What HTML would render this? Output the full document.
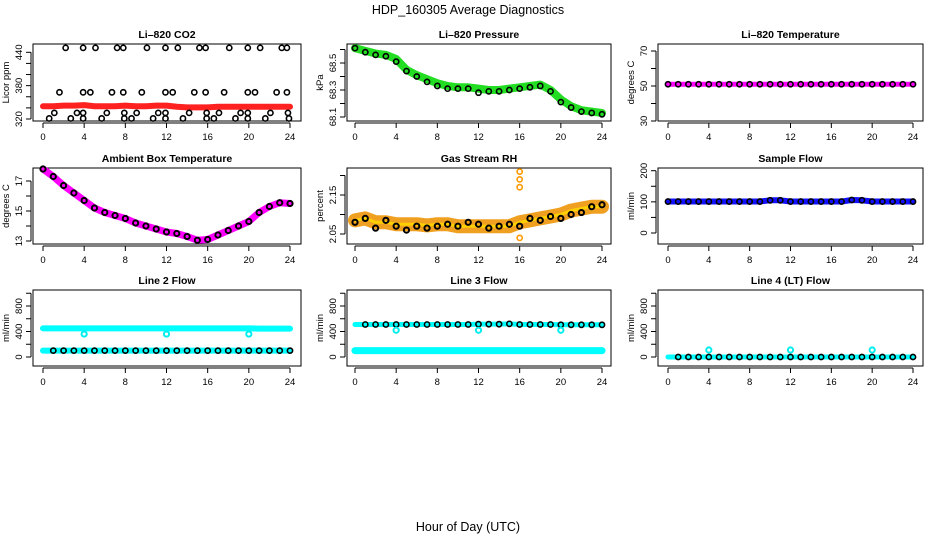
<!DOCTYPE html>
<html><head><meta charset="utf-8">
<style>
html,body{margin:0;padding:0;background:#fff;}
svg{display:block;font-family:"Liberation Sans",sans-serif;}
</style></head>
<body>
<svg id="chart" width="936" height="540" viewBox="0 0 936 540" xmlns="http://www.w3.org/2000/svg">
<text x="468" y="14" text-anchor="middle" font-size="12.5">HDP_160305  Average Diagnostics</text>
<text x="468" y="531" text-anchor="middle" font-size="12.5">Hour of Day (UTC)</text>
</svg>
<script>
const hours = [0,1,2,3,4,5,6,7,8,9,10,11,12,13,14,15,16,17,18,19,20,21,22,23,24];
const xTicks = [0,4,8,12,16,20,24];
// CO2
const co2Band = [343,343,344,344,345,343,343,343,344,343,343,344,344,342,341,341,341,342,342,342,342,342,342,342,342];
const co2HighT = [2.2,3.9,5.1,7.2,7.8,10.1,11.9,13.1,15.2,15.8,18.1,19.9,21.1,23.2,23.7];
const co2MidT = [1.6,3.9,4.6,6.7,7.8,9.6,11.9,12.6,14.7,15.8,17.6,19.9,20.6,22.7,23.7];
const co2LowT = [1.1,3.3,3.9,6.2,7.9,9.1,11.2,11.9,14.2,15.9,17.1,19.2,19.9,22.1,23.8];
const co2MinT = [0.6,2.7,3.9,5.7,7.9,8.6,10.7,11.9,13.6,15.9,16.6,18.7,19.9,21.6,23.9];
const co2Levels = [448,368,331,321];
// Pressure
const presBand = [68.61,68.59,68.57,68.56,68.53,68.45,68.41,68.38,68.35,68.33,68.32,68.32,68.31,68.30,68.30,68.31,68.32,68.33,68.34,68.30,68.23,68.18,68.15,68.14,68.13];
const presAvg = [68.61,68.58,68.56,68.55,68.51,68.44,68.40,68.36,68.33,68.31,68.31,68.31,68.28,68.29,68.29,68.30,68.31,68.32,68.33,68.29,68.21,68.17,68.14,68.13,68.12];
// Li-820 temp
const tempBand = [51,51,51,51,51,51,51,51,51,51,51,51,51,51,51,51,51,51,51,51,51,51,51,51,51];
// Ambient
const ambBand = [17.8,17.3,16.7,16.2,15.7,15.2,14.9,14.7,14.5,14.2,14.0,13.8,13.6,13.5,13.3,13.05,13.1,13.4,13.7,14.0,14.3,14.9,15.3,15.55,15.5];
// RH
const rhBand = [2.085,2.09,2.08,2.08,2.075,2.075,2.075,2.072,2.075,2.075,2.07,2.07,2.07,2.07,2.07,2.07,2.08,2.085,2.09,2.095,2.10,2.11,2.115,2.12,2.12];
const rhAvg = [2.08,2.09,2.065,2.085,2.07,2.06,2.07,2.065,2.07,2.075,2.07,2.08,2.075,2.065,2.07,2.075,2.07,2.09,2.085,2.095,2.09,2.10,2.105,2.12,2.125];
const rhSpikeT = [16,16,16,16];
const rhSpike = [2.21,2.19,2.17,2.04];
// Sample flow
const sampBand = [101,101,101,101,101,101,101,101,101,101,105,105,101,101,101,101,101,101,106,105,101,101,101,101,101];
// Line 2
const l2Top = [450,450,450,450,450,450,450,450,450,450,450,450,450,450,450,450,450,450,450,450,450,445,445,445,445];
const l2Bot = [100,100,100,100,100,100,100,100,100,100,100,100,100,100,100,100,100,100,100,100,100,100,100,100,100];
const outT = [4,12,20];
const l2Out = [360,360,360];
// Line 3
const l3Top = [510,510,510,510,510,510,510,510,510,510,510,510,515,515,515,520,510,510,510,510,505,505,505,505,505];
const l3Bot = [100,100,100,100,100,100,100,100,100,100,100,100,100,100,100,100,100,100,100,100,100,100,100,100,100];
const l3Out = [420,420,420];
// Line 4
const l4Band = [0,0,0,0,0,0,0,0,0,0,0,0,0,0,0,0,0,0,0,0,0,0,0,0,0];
const l4Out = [110,110,110];

const NS="http://www.w3.org/2000/svg";
const svg=document.getElementById('chart');
function mk(tag,attrs,parent){const e=document.createElementNS(NS,tag);for(const k in attrs)e.setAttribute(k,attrs[k]);(parent||svg).appendChild(e);return e;}

const cols=[{L:33,R:301,x0:43,x24:290},{L:347,R:611,x0:355,x24:602},{L:658,R:923,x0:668,x24:913}];
const rows=[{T:44,B:121},{T:168,B:244},{T:290,B:366}];

function panel(name,title,ylab,c,r,ya,yb,yTicks,yLabels){
  const col=cols[c],row=rows[r];
  const g=mk('g',{});
  
  
  const X=h=>col.x0+(h/24)*(col.x24-col.x0);
  const Y=v=>ya[1]+(v-ya[0])*(yb[1]-ya[1])/(yb[0]-ya[0]);
  const t=mk('text',{x:(col.L+col.R)/2,y:row.T-6,'text-anchor':'middle','font-size':10.5,'font-weight':'bold'},g);
  t.textContent=title;
  
  
  const box=mk('rect',{x:col.L,y:row.T,width:col.R-col.L,height:row.B-row.T,fill:'none',stroke:'#000','stroke-width':1},g);
  
  
  const xa=mk('g',{},g);
  
  
  mk('line',{x1:X(0),x2:X(24),y1:row.B+2,y2:row.B+2,stroke:'#000'},xa);
  xTicks.forEach(h=>{
    mk('line',{x1:X(h),x2:X(h),y1:row.B+2,y2:row.B+7,stroke:'#000'},xa);
    const l=mk('text',{x:X(h),y:row.B+19,'text-anchor':'middle','font-size':9.5},xa);
    l.textContent=h;
    
    
  });
  const yaG=mk('g',{},g);
  
  
  mk('line',{x1:col.L-2,x2:col.L-2,y1:Y(yTicks[0]),y2:Y(yTicks[yTicks.length-1]),stroke:'#000'},yaG);
  yTicks.forEach(v=>mk('line',{x1:col.L-7,x2:col.L-2,y1:Y(v),y2:Y(v),stroke:'#000'},yaG));
  yLabels.forEach(v=>{
    const yy=Y(v),xx=col.L-11;
    const l=mk('text',{x:xx,y:yy,'text-anchor':'middle','font-size':9.5,transform:`rotate(-90 ${xx} ${yy})`},yaG);
    l.textContent=v;
    
    
  });
  const yt=mk('text',{x:col.L-24,y:(row.T+row.B)/2,'text-anchor':'middle','font-size':9.5,transform:`rotate(-90 ${col.L-24} ${(row.T+row.B)/2})`},g);
  yt.textContent=ylab;
  
  
  return {g,X,Y};
}
function band(p,xs,vals,color,w,name){
  const pl=mk('polyline',{points:xs.map((h,i)=>p.X(h)+','+p.Y(vals[i])).join(' '),fill:'none',stroke:color,'stroke-width':w,'stroke-linejoin':'round','stroke-linecap':'round'},p.g);
  
  
}
function pts(p,xs,vals,color,name,sw){
  xs.forEach((h,i)=>{
    const c=mk('circle',{cx:p.X(h),cy:p.Y(vals[i]),r:2.6,fill:'none',stroke:color,'stroke-width':sw||1.6},p.g);
    
    
  });
}
function rep(arr,v){return arr.map(()=>v);}

// CO2
let p=panel('co2','Li\u2013820 CO2','Licor ppm',0,0,[320,119],[440,52.3],[320,340,360,380,400,420,440],[320,380,440]);
band(p,hours,co2Band,'#ff2020',6,'co2-series');
pts(p,co2HighT,rep(co2HighT,co2Levels[0]),'#000','co2-point');
pts(p,co2MidT,rep(co2MidT,co2Levels[1]),'#000','co2-point');
pts(p,co2LowT,rep(co2LowT,co2Levels[2]),'#000','co2-point');
pts(p,co2MinT,rep(co2MinT,co2Levels[3]),'#000','co2-point');
// Pressure
p=panel('pressure','Li\u2013820 Pressure','kPa',1,0,[68.1,117],[68.5,63],[68.1,68.2,68.3,68.4,68.5,68.6],[68.1,68.3,68.5]);
band(p,hours,presBand,'#22dd22',8,'pressure-series');
pts(p,hours,presAvg,'#000','pressure-point');
// Li temp
p=panel('li820-temp','Li\u2013820 Temperature','degrees C',2,0,[30,121],[70,51],[30,40,50,60,70],[30,50,70]);
band(p,hours,tempBand,'#ff00ff',5,'li820-temp-series');
pts(p,hours,tempBand,'#000','li820-temp-point');
// Ambient
p=panel('ambient-temp','Ambient Box Temperature','degrees C',0,1,[13,241],[17,181],[13,14,15,16,17],[13,15,17]);
band(p,hours,ambBand,'#ff00ff',7,'ambient-temp-series');
pts(p,hours,ambBand,'#000','ambient-temp-point',2);
// RH
p=panel('rh','Gas Stream RH','percent',1,1,[2.05,234],[2.15,195],[2.05,2.10,2.15,2.20],[2.05,2.15]);
band(p,hours,rhBand,'#f0a020',14,'rh-series');
band(p,hours,rhBand,'#ffd000',3,'rh-series-core');
pts(p,rhSpikeT,rhSpike,'#ff9900','rh-spike-point');
pts(p,hours,rhAvg,'#000','rh-point',2);
// Sample flow
p=panel('sample-flow','Sample Flow','ml/min',2,1,[0,233],[200,170.7],[0,50,100,150,200],[0,100,200]);
band(p,hours,sampBand,'#1010ff',6,'sample-flow-series');
pts(p,hours,sampBand,'#000','sample-flow-point');
// Line 2
p=panel('line2-flow','Line 2 Flow','ml/min',0,2,[0,357],[800,306],[0,200,400,600,800,1000],[0,400,800]);
band(p,hours,l2Top,'#00ffff',6,'line2-upper-series');
band(p,hours,l2Bot,'#00ffff',6,'line2-lower-series');
pts(p,hours.slice(1),l2Bot.slice(1),'#000','line2-point');
pts(p,outT,l2Out,'#00eeee','line2-outlier',2);
// Line 3
p=panel('line3-flow','Line 3 Flow','ml/min',1,2,[0,357],[800,306],[0,200,400,600,800,1000],[0,400,800]);
band(p,hours,l3Bot,'#00ffff',7,'line3-lower-series');
band(p,hours,l3Top,'#00ffff',5,'line3-upper-series');
pts(p,hours.slice(1),l3Top.slice(1),'#000','line3-point');
pts(p,outT,l3Out,'#00eeee','line3-outlier',2);
// Line 4
p=panel('line4-flow','Line 4 (LT) Flow','ml/min',2,2,[0,357],[800,306],[0,200,400,600,800,1000],[0,400,800]);
band(p,hours,l4Band,'#00ffff',5,'line4-series');
pts(p,hours.slice(1),l4Band.slice(1),'#000','line4-point');
pts(p,outT,l4Out,'#00eeee','line4-outlier',2);
</script>
</body></html>
